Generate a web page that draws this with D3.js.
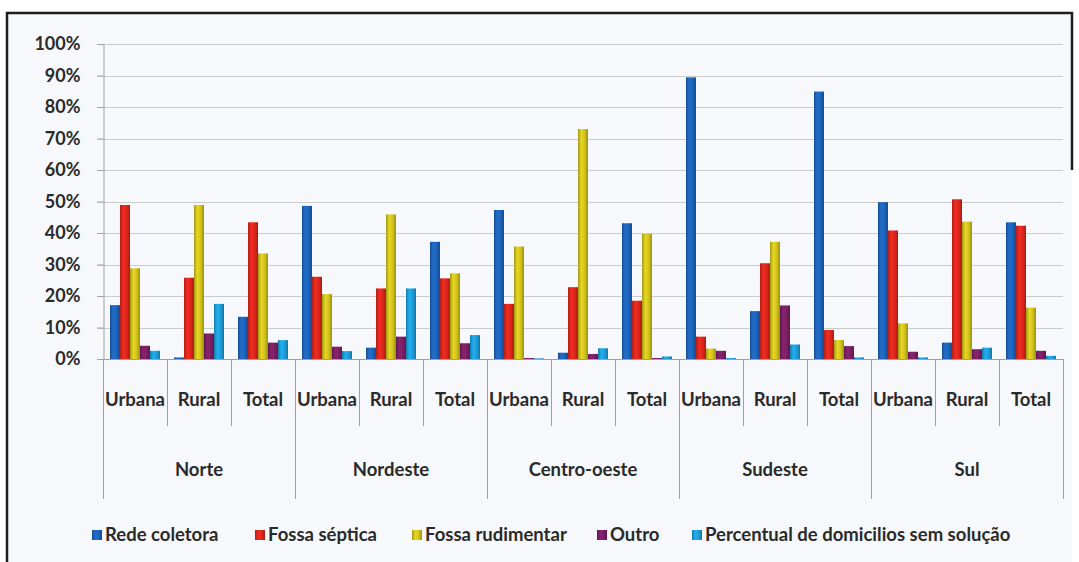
<!DOCTYPE html>
<html>
<head>
<meta charset="utf-8">
<script src="https://cdn.jsdelivr.net/npm/d3@7"></script>
<style>
  html, body { margin: 0; padding: 0; background: #ffffff; }
  svg { display: block; }
  text { font-family: "Lato", "Open Sans", sans-serif; fill: #2a2a2a; }
</style>
</head>
<body>
<svg id="chart" width="1079" height="562"></svg>
<script>
// ---- data ----
const regions = ["Norte", "Nordeste", "Centro-oeste", "Sudeste", "Sul"];
const subcats = ["Urbana", "Rural", "Total"];
const seriesNames = ["Rede coletora", "Fossa séptica", "Fossa rudimentar", "Outro", "Percentual de domicilios sem solução"];
const redeColetora  = [17.1, 0.5, 13.4, 48.6, 3.6, 37.2, 47.3, 2.0, 43.1, 89.4, 15.2, 84.9, 49.8, 5.2, 43.4];
const fossaSeptica  = [48.9, 25.8, 43.4, 26.1, 22.4, 25.6, 17.5, 22.8, 18.5, 7.1, 30.4, 9.2, 40.8, 50.7, 42.3];
const fossaRudiment = [28.8, 48.9, 33.5, 20.6, 45.9, 27.2, 35.7, 73.0, 39.7, 3.3, 37.2, 6.0, 11.3, 43.6, 16.3];
const outro         = [4.2, 8.1, 5.2, 3.9, 7.1, 5.0, 0.3, 1.6, 0.3, 2.6, 17.0, 4.1, 2.3, 3.1, 2.6];
const semSolucao    = [2.6, 17.5, 6.0, 2.5, 22.4, 7.6, 0.2, 3.4, 0.8, 0.3, 4.6, 0.5, 0.5, 3.6, 1.0];
const yTicks = [0, 10, 20, 30, 40, 50, 60, 70, 80, 90, 100];
const colors = ["#1c62b6", "#d9261c", "#cdbf1c", "#7a1f63", "#1d9bd6"];

const seriesValues = [redeColetora, fossaSeptica, fossaRudiment, outro, semSolucao];
const categories = [];
regions.forEach(r => subcats.forEach(s => categories.push(r + "|" + s)));

const svg = d3.select("#chart");

// outer frame
svg.append("rect").attr("x", 7).attr("y", 13).attr("width", 1065).attr("height", 549)
  .attr("fill", "#f6f8fb");
svg.append("path").attr("d", "M7,562 V13 H1072 V170")
  .attr("fill", "none").attr("stroke", "#1e1e1e").attr("stroke-width", 2.5);

const plotLeft = 103, plotRight = 1063, plotTop = 44, plotBottom = 359;

const x = d3.scaleBand().domain(categories).range([plotLeft, plotRight]).paddingInner(0).paddingOuter(0);
const xs = d3.scaleBand().domain(d3.range(5)).range([0, x.bandwidth()]).paddingInner(0).paddingOuter(0.7);
const y = d3.scaleLinear().domain([0, 100]).range([plotBottom, plotTop]);

// gradients for cylinder-like bars
const defs = svg.append("defs");
colors.forEach((c, i) => {
  const g = defs.append("linearGradient").attr("id", "g" + i).attr("x1", "0").attr("x2", "1").attr("y1", "0").attr("y2", "0");
  const base = d3.color(c);
  g.append("stop").attr("offset", "0%").attr("stop-color", base.darker(0.6));
  g.append("stop").attr("offset", "35%").attr("stop-color", base.brighter(0.35));
  g.append("stop").attr("offset", "70%").attr("stop-color", base);
  g.append("stop").attr("offset", "100%").attr("stop-color", base.darker(0.8));
});

// gridlines
svg.append("g").selectAll("line").data(yTicks).join("line")
  .attr("x1", plotLeft - 6).attr("x2", plotRight)
  .attr("y1", d => Math.round(y(d)) + 0.5).attr("y2", d => Math.round(y(d)) + 0.5)
  .attr("stroke", "#cbcbcb").attr("stroke-width", 1);

// y axis
const yAxis = d3.axisLeft(y).tickValues(yTicks).tickFormat(d => d + "%").tickSize(6).tickPadding(17);
const ya = svg.append("g").attr("transform", `translate(${plotLeft + 0.5},0)`).call(yAxis);
ya.select(".domain").attr("stroke", "#a0a0a0");
ya.selectAll(".tick line").attr("stroke", "#a0a0a0");
ya.selectAll(".tick text")
  .style("font-family", "Lato, sans-serif")
  .style("font-size", "18px").style("font-weight", "700").attr("fill", "#333");

// bars
categories.forEach((cat, ci) => {
  seriesValues.forEach((vals, si) => {
    const v = vals[ci];
    const bx = x(cat) + xs(si);
    svg.append("rect")
      .attr("x", bx).attr("width", xs.bandwidth())
      .attr("y", y(v)).attr("height", y(0) - y(v))
      .attr("fill", `url(#g${si})`);
  });
});

// category axis lines
svg.append("line").attr("x1", plotLeft).attr("x2", plotRight)
  .attr("y1", plotBottom + 0.5).attr("y2", plotBottom + 0.5).attr("stroke", "#a0a0a0");
const bounds = d3.range(categories.length + 1);
svg.append("g").selectAll("line").data(bounds).join("line")
  .attr("x1", i => Math.round(plotLeft + i * x.step()) + 0.5)
  .attr("x2", i => Math.round(plotLeft + i * x.step()) + 0.5)
  .attr("y1", plotBottom)
  .attr("y2", i => i % 3 === 0 ? 499 : 426)
  .attr("stroke", "#a0a0a0");

// subcategory labels
svg.append("g").selectAll("text").data(categories).join("text")
  .attr("x", d => x(d) + x.bandwidth() / 2)
  .attr("y", 406)
  .attr("text-anchor", "middle")
  .style("font-size", "18.5px").style("font-weight", "700")
  .text(d => d.split("|")[1]);

// region labels
svg.append("g").selectAll("text").data(regions).join("text")
  .attr("x", (d, i) => plotLeft + (i * 3 + 1.5) * x.step())
  .attr("y", 476)
  .attr("text-anchor", "middle")
  .style("font-size", "18.5px").style("font-weight", "700")
  .text(d => d);

// legend
const legendX = [92, 255, 412, 597, 692];
const legend = svg.append("g").attr("transform", "translate(0,535)");
seriesNames.forEach((name, i) => {
  const g = legend.append("g").attr("transform", `translate(${legendX[i]},0)`);
  g.append("rect").attr("x", 0).attr("y", -5).attr("width", 10).attr("height", 10).attr("fill", `url(#g${i})`);
  g.append("text").attr("x", 13).attr("y", 6)
    .style("font-size", "18.5px").style("font-weight", "700").text(name);
});
</script>
</body>
</html>
